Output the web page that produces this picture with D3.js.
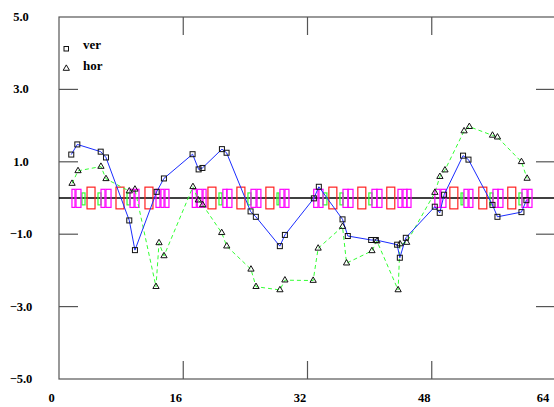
<!DOCTYPE html>
<html>
<head>
<meta charset="utf-8">
<script src="https://cdn.jsdelivr.net/npm/d3@7"></script>
<style>
  body { margin: 0; background: #fff; }
  svg text { font-family: 'Liberation Serif', 'DejaVu Serif', serif; font-weight: bold; }
</style>
</head>
<body>
<div id="chart"></div>
<script>
// data
const verX = [1.58, 2.36, 5.37, 6.05, 9.05, 9.78, 12.57, 13.51, 17.2, 17.98, 18.47, 20.98, 21.58,
  24.67, 25.35, 28.44, 29.09, 32.82, 33.46, 36.51, 37.19, 40.2, 40.8, 43.54, 43.89, 44.66,
  48.39, 49.03, 49.59, 52.03, 52.73, 55.82, 56.46, 59.55, 60.19]
const verY = [1.2, 1.48, 1.28, 1.12, -0.62, -1.44, 0.17, 0.54, 1.21, 0.79, 0.83, 1.35, 1.25,
  -0.37, -0.52, -1.33, -1.02, -0.01, 0.31, -0.59, -1.05, -1.16, -1.16, -1.29, -1.65, -1.1,
  -0.24, -0.41, 0.09, 1.17, 1.06, -0.19, -0.52, -0.39, -0.06]

const horX = [1.68, 2.45, 5.4, 6.05, 9.05, 9.78, 12.49, 12.88, 13.52, 17.25, 17.94, 18.5, 20.95,
  21.6, 24.72, 25.37, 28.45, 29.09, 32.73, 33.37, 36.51, 37.03, 40.3, 40.94, 43.67, 43.91, 44.77,
  48.4, 49.05, 49.7, 52.16, 52.84, 55.82, 56.46, 59.55, 60.28]
const horY = [0.4, 0.75, 0.87, 0.53, 0.19, 0.24, -2.45, -1.24, -1.6, 0.31, -0.06, -0.19, -0.96,
  -1.33, -1.97, -2.45, -2.54, -2.27, -2.28, -1.39, -0.79, -1.8, -1.46, -1.19, -2.54, -1.27, -1.23,
  0.15, 0.59, 0.77, 1.85, 1.97, 1.73, 1.68, 1.0, 0.54]

// boxes along the zero line: [start, end]
const redBoxes = [[3.61, 4.64], [7.34, 8.37], [11.07, 12.1], [19.18, 20.21], [22.91, 23.94],
  [26.64, 27.67], [34.75, 35.78], [38.48, 39.51], [42.21, 43.24], [50.33, 51.36],
  [54.06, 55.09], [57.79, 58.82]]
const redLo = -0.3
const redHi = 0.3

const magentaBoxes = [[1.67, 2.06], [2.19, 2.83], [5.41, 5.92], [6.05, 6.7], [9.145, 9.66],
  [9.79, 10.3], [12.49, 13.0], [13.13, 13.52], [13.65, 14.16], [17.16, 17.68], [17.81, 18.42],
  [18.55, 18.94], [21.1, 21.62], [21.62, 22.27], [24.72, 25.37], [25.5, 26.0], [28.45, 28.97],
  [29.1, 29.61], [32.8, 33.35], [33.48, 34.0], [36.57, 37.22], [37.22, 37.86], [40.3, 40.94],
  [40.94, 41.59], [43.65, 44.17], [44.3, 44.8], [44.8, 45.33], [48.4, 49.05], [49.18, 49.83],
  [52.15, 52.67], [52.8, 53.3], [55.88, 56.53], [56.53, 57.17], [59.62, 60.27], [60.4, 60.91]]
const magentaLo = -0.26
const magentaHi = 0.24

const greenBoxes = [[2.96, 3.35], [5.02, 5.41], [8.76, 9.14], [20.6, 20.98], [24.33, 24.72],
  [28.07, 28.32], [34.0, 34.5], [36.18, 36.57], [39.9, 40.3], [51.77, 52.03], [55.5, 55.88],
  [59.23, 59.62]]
const greenLo = -0.19
const greenHi = 0.14

const xTicks = [0, 16, 32, 48, 64]
const yTicks = [5, 3, 1, -1, -3, -5]

const margin = { top: 17, left: 59, right: 0, bottom: 28 }
const width = 554
const height = 407
const plotW = 497
const plotH = 362

const svg = d3
  .select('#chart')
  .append('svg')
  .attr('width', width)
  .attr('height', height)

const g = svg.append('g')
  .attr('transform', 'translate(' + margin.left + ',' + margin.top + ')')

const x = d3.scaleLinear().domain([0, 64]).range([0, plotW])
const y = d3.scaleLinear().domain([-5, 5]).range([plotH, 0])

// frame
g.append('rect')
  .attr('x', 0).attr('y', 0)
  .attr('width', plotW).attr('height', plotH)
  .attr('fill', 'none')
  .attr('stroke', '#555')
  .attr('stroke-width', 1.2)

const tickLen = 18

// x ticks, top and bottom
g.selectAll('.xtick-b')
  .data(xTicks.slice(1, -1))
  .enter()
  .append('line')
  .attr('x1', d => x(d)).attr('x2', d => x(d))
  .attr('y1', plotH).attr('y2', plotH - tickLen)
  .attr('stroke', '#555').attr('stroke-width', 1.2)

g.selectAll('.xtick-t')
  .data(xTicks.slice(1, -1))
  .enter()
  .append('line')
  .attr('x1', d => x(d)).attr('x2', d => x(d))
  .attr('y1', 0).attr('y2', tickLen)
  .attr('stroke', '#555').attr('stroke-width', 1.2)

// y ticks, left and right
g.selectAll('.ytick-l')
  .data(yTicks.slice(1, -1))
  .enter()
  .append('line')
  .attr('x1', 0).attr('x2', tickLen + 1)
  .attr('y1', d => y(d)).attr('y2', d => y(d))
  .attr('stroke', '#555').attr('stroke-width', 1.2)

g.selectAll('.ytick-r')
  .data(yTicks.slice(1, -1))
  .enter()
  .append('line')
  .attr('x1', plotW).attr('x2', plotW - tickLen - 2)
  .attr('y1', d => y(d)).attr('y2', d => y(d))
  .attr('stroke', '#555').attr('stroke-width', 1.2)

// tick labels
g.selectAll('.xlabel')
  .data(xTicks)
  .enter()
  .append('text')
  .attr('x', d => Math.min(x(d) - 7.5, width - margin.left - 11))
  .attr('y', plotH + 23)
  .attr('text-anchor', 'middle')
  .attr('font-size', 12.5)
  .text(d => d)

g.selectAll('.ylabel')
  .data(yTicks)
  .enter()
  .append('text')
  .attr('x', 21 - margin.left)
  .attr('y', d => y(d) + 4)
  .attr('text-anchor', 'middle')
  .attr('font-size', 12.5)
  .text(d => d3.format('.1f')(d).replace('-', '\u2013'))

// zero line
g.append('line')
  .attr('x1', 0).attr('x2', plotW)
  .attr('y1', y(0)).attr('y2', y(0))
  .attr('stroke', '#000').attr('stroke-width', 1.3)

// boxes
function drawBoxes(list, lo, hi, color) {
  g.selectAll(null)
    .data(list)
    .enter()
    .append('rect')
    .attr('x', d => x(d[0]))
    .attr('width', d => x(d[1]) - x(d[0]))
    .attr('y', y(hi))
    .attr('height', y(lo) - y(hi))
    .attr('fill', 'none')
    .attr('stroke', color)
    .attr('stroke-width', 1.2)
}
drawBoxes(greenBoxes, greenLo, greenHi, '#33ff33')
drawBoxes(magentaBoxes, magentaLo, magentaHi, '#ff00ff')
drawBoxes(redBoxes, redLo, redHi, '#ff2020')

const ver = verX.map((v, i) => ({ x: v, y: verY[i] }))
const hor = horX.map((v, i) => ({ x: v, y: horY[i] }))

const line = d3.line()
  .x(d => x(d.x))
  .y(d => y(d.y))

g.append('path')
  .datum(hor)
  .attr('d', line)
  .attr('fill', 'none')
  .attr('stroke', '#33ff33')
  .attr('stroke-width', 1)
  .attr('stroke-dasharray', '4,3')

g.append('path')
  .datum(ver)
  .attr('d', line)
  .attr('fill', 'none')
  .attr('stroke', '#1a2cff')
  .attr('stroke-width', 1)

const tri = d3.symbol().type(d3.symbolTriangle).size(17)

g.selectAll('.tri')
  .data(hor)
  .enter()
  .append('path')
  .attr('d', tri)
  .attr('transform', d => 'translate(' + x(d.x) + ',' + y(d.y) + ')')
  .attr('fill', 'none')
  .attr('stroke', '#111')
  .attr('stroke-width', 1)

g.selectAll('.sq')
  .data(ver)
  .enter()
  .append('rect')
  .attr('x', d => x(d.x) - 2.5)
  .attr('y', d => y(d.y) - 2.5)
  .attr('width', 5).attr('height', 5)
  .attr('fill', 'none')
  .attr('stroke', '#111')
  .attr('stroke-width', 1)

// legend
const legend = svg.append('g')
legend.append('rect')
  .attr('x', 64).attr('y', 46.5).attr('width', 4.5).attr('height', 4.5)
  .attr('fill', 'none').attr('stroke', '#111')
legend.append('path')
  .attr('d', tri)
  .attr('transform', 'translate(66.3,68.5)')
  .attr('fill', 'none').attr('stroke', '#111')
legend.append('text')
  .attr('x', 83).attr('y', 48.5).attr('font-size', 13).text('ver')
legend.append('text')
  .attr('x', 83).attr('y', 70).attr('font-size', 13).text('hor')
</script>
</body>
</html>
